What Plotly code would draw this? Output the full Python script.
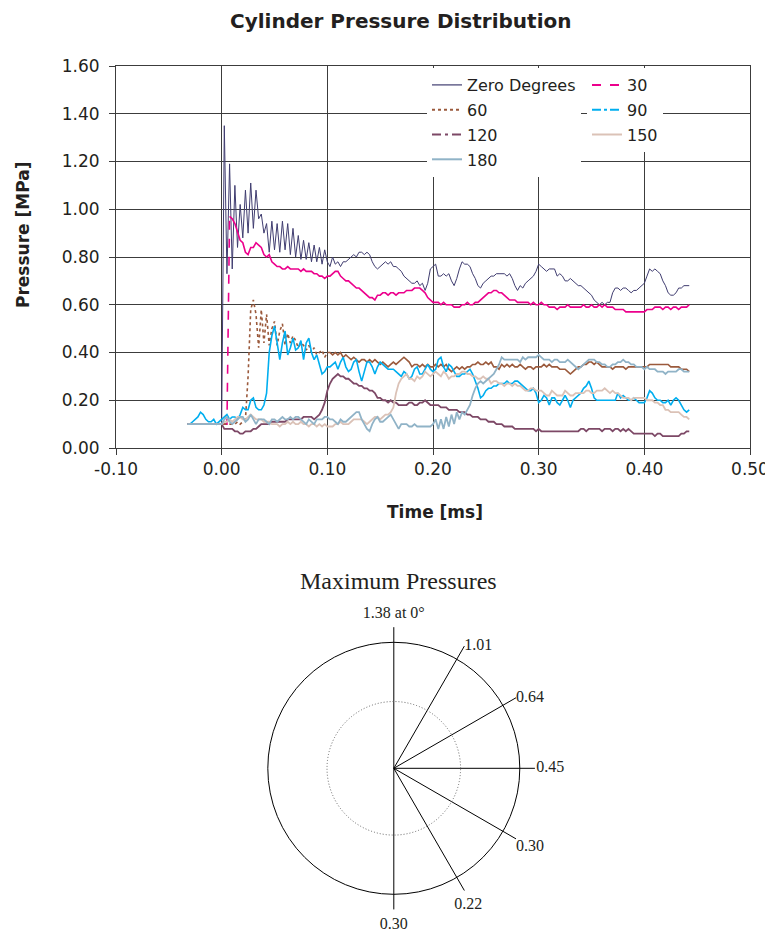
import plotly.graph_objects as go

# ---------------- data ----------------
TIME_START = -0.0325   # ms, first sample
TIME_STEP = 0.0025     # ms, sampling interval

zero_deg = [
    0.10, 0.10, 0.10, 0.10, 0.10, 0.10, 0.10, 0.10, 0.10, 0.10, 0.10, 0.10, 0.10, 0.10,
    1.35, 0.73, 1.19, 0.75, 1.10, 0.84, 1.02, 0.88, 1.08, 0.90,
    1.11, 0.92, 1.08, 0.96, 0.98, 0.90, 0.94, 0.82, 0.95, 0.83,
    0.94, 0.82, 0.95, 0.83, 0.94, 0.81, 0.92, 0.80, 0.89, 0.79,
    0.87, 0.79, 0.86, 0.78, 0.85, 0.78, 0.84, 0.77, 0.83, 0.78,
    0.76, 0.80, 0.77, 0.78, 0.76, 0.78, 0.78, 0.79, 0.80, 0.81,
    0.80, 0.82, 0.82, 0.81, 0.82, 0.81, 0.78, 0.76, 0.75, 0.76,
    0.77, 0.78, 0.77, 0.78, 0.76, 0.76, 0.75, 0.74, 0.72, 0.71,
    0.70, 0.69, 0.69, 0.70, 0.68, 0.69, 0.66, 0.69, 0.75, 0.76,
    0.77, 0.72, 0.72, 0.73, 0.72, 0.73, 0.70, 0.68, 0.71, 0.75,
    0.78, 0.77, 0.77, 0.76, 0.73, 0.71, 0.68, 0.67, 0.69, 0.70,
    0.71, 0.72, 0.72, 0.73, 0.73,
    0.73, 0.73, 0.72, 0.73, 0.71, 0.68, 0.66, 0.68, 0.67, 0.69,
    0.70, 0.71, 0.72, 0.74, 0.77, 0.76, 0.75, 0.74, 0.75, 0.75,
    0.75, 0.72, 0.73, 0.72, 0.70, 0.70, 0.71, 0.70, 0.69, 0.68,
    0.68, 0.67, 0.66, 0.65, 0.64, 0.62, 0.61, 0.60, 0.61, 0.60,
    0.61, 0.61, 0.65, 0.67, 0.67, 0.66, 0.67, 0.67, 0.66, 0.65,
    0.66, 0.66, 0.67, 0.68, 0.69, 0.72, 0.75, 0.74, 0.75, 0.74,
    0.73, 0.70, 0.68, 0.65, 0.64, 0.64, 0.65, 0.67, 0.67, 0.68,
    0.68, 0.68,
]

deg30 = [
    0.10, 0.10, 0.10, 0.10, 0.10, 0.10, 0.10, 0.10, 0.10, 0.10, 0.10, 0.10, 0.10, 0.10, 0.10, 0.10,
    0.97, 0.96, 0.94, 0.90, 0.87, 0.86, 0.82, 0.81, 0.84, 0.84,
    0.86, 0.85, 0.84, 0.81, 0.80, 0.81, 0.78, 0.77, 0.76, 0.76,
    0.75, 0.75, 0.76, 0.75, 0.75, 0.75, 0.75, 0.74, 0.75, 0.74,
    0.74, 0.74, 0.73, 0.73, 0.72, 0.72, 0.71, 0.72,
    0.72, 0.73, 0.74, 0.74, 0.72, 0.71, 0.70, 0.70, 0.69, 0.68,
    0.67, 0.67, 0.66, 0.65, 0.64, 0.63, 0.63, 0.62, 0.64, 0.64,
    0.65, 0.65, 0.64, 0.65, 0.65, 0.64, 0.65, 0.65, 0.65, 0.66,
    0.66, 0.66, 0.67, 0.67, 0.67, 0.66, 0.65, 0.63, 0.62, 0.61,
    0.61, 0.61, 0.60, 0.61, 0.60, 0.60, 0.60, 0.59, 0.59, 0.59,
    0.60, 0.60, 0.61, 0.60, 0.60, 0.61, 0.61, 0.62, 0.63, 0.64,
    0.65, 0.65, 0.66, 0.66, 0.65,
    0.65, 0.64, 0.63, 0.62, 0.62, 0.62, 0.61, 0.61, 0.61, 0.61,
    0.61, 0.60, 0.61, 0.60, 0.60, 0.61, 0.60, 0.60, 0.59, 0.59,
    0.59, 0.58, 0.59, 0.59, 0.59, 0.60, 0.59, 0.59, 0.59, 0.59,
    0.59, 0.60, 0.59, 0.59, 0.60, 0.59, 0.59, 0.60, 0.59, 0.60,
    0.59, 0.59, 0.59, 0.58, 0.58, 0.58, 0.58, 0.57, 0.57, 0.57,
    0.57, 0.57, 0.57, 0.57, 0.57, 0.58, 0.58, 0.58, 0.59, 0.59,
    0.59, 0.58, 0.59, 0.59, 0.58, 0.59, 0.59, 0.58, 0.59, 0.59,
    0.59, 0.60,
]

deg60 = [
    0.10, 0.10, 0.10, 0.10, 0.10, 0.10, 0.10, 0.10, 0.10, 0.10,
    0.10, 0.10, 0.10, 0.10, 0.10, 0.10, 0.10, 0.10, 0.10, 0.11,
    0.10, 0.11, 0.12,
    0.30, 0.58, 0.62, 0.56, 0.42, 0.58, 0.44, 0.56, 0.43, 0.50,
    0.53, 0.43, 0.49, 0.52, 0.43, 0.48, 0.44, 0.47, 0.45, 0.42,
    0.44, 0.43, 0.41, 0.43, 0.40, 0.42, 0.39, 0.40, 0.41, 0.38,
    0.40,
    0.40, 0.39, 0.40, 0.39, 0.40, 0.38, 0.39, 0.38, 0.37, 0.38,
    0.37, 0.36, 0.37, 0.37, 0.36, 0.37, 0.36, 0.37, 0.36, 0.35,
    0.36, 0.35, 0.34, 0.35, 0.36, 0.35, 0.36, 0.37, 0.38, 0.37,
    0.36, 0.34, 0.35, 0.35, 0.34, 0.35, 0.34, 0.35, 0.34, 0.34,
    0.35, 0.34, 0.35, 0.34, 0.35, 0.33, 0.32, 0.33, 0.34, 0.33,
    0.34, 0.33, 0.34, 0.34, 0.35, 0.35, 0.36, 0.35, 0.35, 0.36,
    0.35, 0.36, 0.34, 0.34, 0.33,
    0.35, 0.34, 0.35, 0.34, 0.35, 0.34, 0.34, 0.35, 0.34, 0.33,
    0.34, 0.34, 0.33, 0.34, 0.34, 0.34, 0.35, 0.34, 0.35, 0.34,
    0.34, 0.34, 0.33, 0.33, 0.33, 0.32, 0.31, 0.32, 0.33, 0.34,
    0.34, 0.35, 0.35, 0.36, 0.36, 0.35, 0.36, 0.35, 0.34, 0.34,
    0.34, 0.34, 0.33, 0.34, 0.34, 0.34, 0.34, 0.33, 0.34, 0.34,
    0.34, 0.34, 0.34, 0.34, 0.34, 0.34, 0.35, 0.35, 0.35, 0.35,
    0.35, 0.35, 0.35, 0.35, 0.34, 0.34, 0.34, 0.34, 0.33, 0.33,
    0.33, 0.32,
]

deg90 = [
    0.10, 0.10, 0.11, 0.12, 0.13, 0.15, 0.14, 0.12, 0.11, 0.11, 0.12, 0.10, 0.11,
    0.12, 0.13, 0.14, 0.12, 0.13, 0.13, 0.12, 0.14, 0.17, 0.16,
    0.16, 0.20, 0.21, 0.17, 0.16, 0.16, 0.18, 0.23, 0.40,
    0.47, 0.51, 0.44, 0.37, 0.44, 0.49, 0.39, 0.42, 0.46, 0.41,
    0.42, 0.45, 0.37, 0.44, 0.46, 0.40, 0.37, 0.39, 0.35, 0.31,
    0.32, 0.34,
    0.34, 0.35, 0.36, 0.33, 0.36, 0.38, 0.34, 0.32, 0.33, 0.36,
    0.37, 0.32, 0.28, 0.32, 0.36, 0.36, 0.34, 0.31, 0.34, 0.36,
    0.35, 0.34, 0.33, 0.33, 0.33, 0.32, 0.31, 0.30, 0.32, 0.31,
    0.29, 0.30, 0.33, 0.34, 0.31, 0.31, 0.33, 0.35, 0.33, 0.32,
    0.33, 0.37, 0.38, 0.34, 0.32, 0.35, 0.34, 0.32, 0.30, 0.30,
    0.31, 0.31, 0.32, 0.33, 0.31, 0.28, 0.25, 0.21, 0.22, 0.24,
    0.25, 0.25, 0.26, 0.26, 0.27,
    0.27, 0.27, 0.28, 0.27, 0.27, 0.28, 0.28, 0.27, 0.26, 0.25,
    0.24, 0.24, 0.25, 0.23, 0.19, 0.20, 0.22, 0.21, 0.18, 0.21,
    0.21, 0.19, 0.18, 0.20, 0.22, 0.20, 0.17, 0.20, 0.21, 0.22,
    0.23, 0.25, 0.26, 0.28, 0.25, 0.21, 0.20, 0.20, 0.20, 0.20,
    0.20, 0.20, 0.20, 0.20, 0.23, 0.21, 0.22, 0.21, 0.20, 0.20,
    0.21, 0.20, 0.19, 0.19, 0.19, 0.21, 0.24, 0.23, 0.21, 0.20,
    0.20, 0.19, 0.19, 0.20, 0.18, 0.20, 0.21, 0.20, 0.18, 0.16,
    0.15, 0.16,
]

deg120 = [
    0.10, 0.10, 0.10, 0.10, 0.10, 0.10, 0.10, 0.10, 0.10, 0.10, 0.10, 0.10, 0.10, 0.10,
    0.08, 0.08, 0.08, 0.08, 0.07, 0.07, 0.06, 0.06, 0.07, 0.07,
    0.07, 0.08, 0.08, 0.09, 0.10, 0.10, 0.10, 0.10, 0.11, 0.11,
    0.11, 0.11, 0.11, 0.11, 0.12, 0.12, 0.12, 0.12, 0.12, 0.12,
    0.13, 0.13, 0.13, 0.13, 0.12, 0.13, 0.14, 0.16, 0.19, 0.24,
    0.27, 0.29, 0.30, 0.31, 0.30, 0.30, 0.29, 0.29, 0.28, 0.27,
    0.27, 0.26, 0.26, 0.25, 0.25, 0.24, 0.24, 0.23, 0.21, 0.21,
    0.20, 0.20, 0.19, 0.20, 0.19, 0.19, 0.18, 0.18, 0.18, 0.18,
    0.19, 0.19, 0.18, 0.18, 0.19, 0.19, 0.20, 0.19, 0.18, 0.18,
    0.18, 0.18, 0.17, 0.17, 0.17, 0.16, 0.16, 0.16, 0.16, 0.15,
    0.15, 0.15, 0.14, 0.14, 0.13, 0.13, 0.13, 0.12, 0.12, 0.12,
    0.11, 0.11, 0.11, 0.10, 0.10,
    0.10, 0.09, 0.09, 0.09, 0.09, 0.08, 0.08, 0.08, 0.08, 0.08,
    0.08, 0.08, 0.08, 0.07, 0.08, 0.07, 0.07, 0.07, 0.07, 0.07,
    0.07, 0.07, 0.07, 0.07, 0.07, 0.07, 0.07, 0.07, 0.07, 0.07,
    0.08, 0.08, 0.07, 0.08, 0.08, 0.08, 0.08, 0.08, 0.07, 0.08,
    0.08, 0.08, 0.07, 0.08, 0.08, 0.07, 0.08, 0.07, 0.08, 0.07,
    0.06, 0.06, 0.06, 0.06, 0.06, 0.06, 0.06, 0.06, 0.05, 0.06,
    0.06, 0.05, 0.05, 0.05, 0.05, 0.05, 0.05, 0.05, 0.06, 0.06,
    0.07, 0.07,
]

deg150 = [
    0.10, 0.10, 0.10, 0.10, 0.10, 0.10, 0.10, 0.10, 0.10, 0.10, 0.10, 0.10, 0.10, 0.10,
    0.11, 0.11, 0.12, 0.11, 0.12, 0.13, 0.13, 0.12, 0.12, 0.13,
    0.14, 0.13, 0.12, 0.12, 0.12, 0.11, 0.11, 0.11, 0.10, 0.10,
    0.10, 0.09, 0.10, 0.10, 0.11, 0.10, 0.11, 0.10, 0.10, 0.11,
    0.10, 0.10, 0.09, 0.10, 0.10, 0.09, 0.10, 0.09, 0.10, 0.09,
    0.09, 0.09, 0.10, 0.10, 0.11, 0.10, 0.10, 0.10, 0.11, 0.12,
    0.12, 0.12, 0.12, 0.11, 0.10, 0.11, 0.12, 0.13, 0.13, 0.12,
    0.13, 0.14, 0.14, 0.15, 0.17, 0.23, 0.27, 0.29, 0.30, 0.31,
    0.29, 0.29, 0.28, 0.30, 0.29, 0.30, 0.32, 0.31, 0.30, 0.31,
    0.32, 0.31, 0.30, 0.32, 0.31, 0.29, 0.30, 0.30, 0.31, 0.31,
    0.32, 0.32, 0.31, 0.31, 0.30, 0.30, 0.29, 0.29, 0.30, 0.29,
    0.29, 0.27, 0.28, 0.28, 0.27,
    0.27, 0.26, 0.27, 0.27, 0.26, 0.27, 0.26, 0.26, 0.25, 0.24,
    0.24, 0.25, 0.25, 0.24, 0.24, 0.24, 0.23, 0.22, 0.22, 0.24,
    0.23, 0.22, 0.22, 0.22, 0.24, 0.23, 0.22, 0.22, 0.23, 0.23,
    0.23, 0.23, 0.24, 0.24, 0.23, 0.23, 0.24, 0.24, 0.24, 0.25,
    0.24, 0.23, 0.24, 0.23, 0.23, 0.22, 0.21, 0.21, 0.21, 0.20,
    0.21, 0.21, 0.21, 0.21, 0.21, 0.20, 0.20, 0.20, 0.19, 0.19,
    0.18, 0.18, 0.16, 0.16, 0.15, 0.15, 0.15, 0.15, 0.14, 0.13,
    0.13, 0.12,
]

deg180 = [
    0.10, 0.10, 0.10, 0.10, 0.10, 0.10, 0.10, 0.10, 0.10, 0.10, 0.10, 0.10, 0.10, 0.10,
    0.12, 0.13, 0.11, 0.10, 0.11, 0.12, 0.13, 0.13, 0.11, 0.12,
    0.14, 0.12, 0.10, 0.12, 0.12, 0.12, 0.11, 0.10, 0.12, 0.12,
    0.11, 0.12, 0.13, 0.12, 0.12, 0.13, 0.12, 0.13, 0.13, 0.12,
    0.11, 0.10, 0.12, 0.11, 0.10, 0.12, 0.12, 0.12, 0.13, 0.13,
    0.12, 0.12, 0.11, 0.10, 0.12, 0.11, 0.11, 0.12, 0.13, 0.14,
    0.15, 0.15, 0.12, 0.10, 0.08, 0.07, 0.10, 0.12, 0.13, 0.11,
    0.11, 0.12, 0.13, 0.14, 0.12, 0.10, 0.08, 0.10, 0.10, 0.10,
    0.09, 0.09, 0.10, 0.09, 0.09, 0.09, 0.09, 0.09, 0.09, 0.10,
    0.12, 0.08, 0.12, 0.08, 0.13, 0.09, 0.14, 0.10, 0.15, 0.12,
    0.15, 0.14, 0.16, 0.18, 0.22, 0.25, 0.27, 0.28, 0.27, 0.28,
    0.29, 0.30, 0.31, 0.33, 0.35,
    0.38, 0.37, 0.37, 0.37, 0.37, 0.37, 0.37, 0.36, 0.38, 0.37,
    0.38, 0.38, 0.38, 0.38, 0.39, 0.38, 0.37, 0.37, 0.37, 0.36,
    0.37, 0.37, 0.36, 0.36, 0.36, 0.37, 0.36, 0.35, 0.34, 0.33,
    0.34, 0.35, 0.36, 0.37, 0.37, 0.37, 0.36, 0.36, 0.35, 0.35,
    0.34, 0.34, 0.35, 0.35, 0.36, 0.36, 0.37, 0.36, 0.36, 0.35,
    0.35, 0.34, 0.34, 0.34, 0.33, 0.34, 0.33, 0.33, 0.33, 0.32,
    0.32, 0.32, 0.31, 0.32, 0.32, 0.32, 0.32, 0.33, 0.33, 0.32,
    0.32, 0.32,
]

x_tick_vals = [-0.10, 0.00, 0.10, 0.20, 0.30, 0.40, 0.50]
x_tick_text = ["-0.10", "0.00", "0.10", "0.20", "0.30", "0.40", "0.50"]
y_tick_vals = [0.0, 0.2, 0.4, 0.6, 0.8, 1.0, 1.2, 1.4, 1.6]
y_tick_text = ["0.00", "0.20", "0.40", "0.60", "0.80", "1.00", "1.20", "1.40", "1.60"]

angles_deg = [0, 30, 60, 90, 120, 150, 180]
max_pressures = [1.38, 1.01, 0.64, 0.45, 0.30, 0.22, 0.30]

# ---------------- figure ----------------
N = len(zero_deg)
for s in (deg30, deg60, deg90, deg120, deg150, deg180):
    assert len(s) == N, len(s)
time_ms = [round(TIME_START + TIME_STEP * i, 4) for i in range(N)]

# the page body has an 8px margin; lay out in window pixels and shift
OFF = 8
W, H = 773 - OFF, 933 - OFF
TXT = "#231F20"
GRID = "#3c3c3c"
SANS = "DejaVu Sans"
SERIF = "Liberation Serif"

C_ZERO = "#403D70"
C_30 = "#EC008C"
C_60 = "#9B5A3C"
C_90 = "#00AEEF"
C_120 = "#7D4866"
C_150 = "#DBC2B7"
C_180 = "#90B3C7"
LW = 1.6

fig = go.Figure()

def add_line(x, y, color, width, dash="solid"):
    fig.add_trace(go.Scatter(x=x, y=y, mode="lines", showlegend=False, hoverinfo="skip",
                             line=dict(color=color, width=width, dash=dash)))

add_line(time_ms, zero_deg, C_ZERO, 1.0)
# the steep rise of "30" renders dashed, the dense noisy part looks solid
add_line(time_ms[:17], deg30[:17], C_30, LW, "dash")
add_line(time_ms[16:], deg30[16:], C_30, LW)
add_line(time_ms[:54], deg60[:54], C_60, LW, "dot")
add_line(time_ms[53:], deg60[53:], C_60, LW)
add_line(time_ms, deg90, C_90, LW)
add_line(time_ms, deg120, C_120, 1.8)
add_line(time_ms, deg150, C_150, 1.8)
add_line(time_ms, deg180, C_180, 1.8)

# legend entries (two columns)
legend_items = [
    ("Zero Degrees", C_ZERO, 1.2, "solid", "legend"),
    ("30", C_30, 2.0, "dash", "legend2"),
    ("60", C_60, 2.0, "dot", "legend"),
    ("90", C_90, 2.0, "dashdot", "legend2"),
    ("120", C_120, 2.0, "9px,4px,3px,4px", "legend"),
    ("150", C_150, 2.0, "solid", "legend2"),
    ("180", C_180, 2.0, "solid", "legend"),
]
for name, color, width, dash, lg in legend_items:
    fig.add_trace(go.Scatter(x=[None], y=[None], mode="lines", name=name, legend=lg,
                             legendgroup=name,
                             line=dict(color=color, width=width, dash=dash)))

# ---------------- polar diagram ----------------
RAY_LEN = 1.12
ray_r, ray_t = [], []
for a in angles_deg:
    ray_r += [0, RAY_LEN, None]
    ray_t += [a, a, None]
fig.add_trace(go.Scatterpolar(r=ray_r, theta=ray_t, mode="lines", subplot="polar",
                              line=dict(color="black", width=1), showlegend=False,
                              hoverinfo="skip", cliponaxis=False))

label_text = [f"{p:.2f}" for p in max_pressures]
label_text[0] = f"{max_pressures[0]:.2f} at {angles_deg[0]}°"
label_pos = {0: "top center", 30: "middle right", 60: "middle right", 90: "middle right",
             120: "bottom right", 150: "bottom center", 180: "bottom center"}
label_rad = {0: 1.16, 30: 1.12, 60: 1.12, 90: 1.13, 120: 1.12, 150: 1.18, 180: 1.18}
fig.add_trace(go.Scatterpolar(r=[label_rad[a] for a in angles_deg], theta=angles_deg,
                              mode="text", text=label_text,
                              textposition=[label_pos[a] for a in angles_deg],
                              textfont=dict(family=SERIF, size=16, color=TXT),
                              subplot="polar", showlegend=False, hoverinfo="skip",
                              cliponaxis=False))
# empty trace so the second (dotted-circle) polar subplot is drawn
fig.add_trace(go.Scatterpolar(r=[None], theta=[None], subplot="polar2", mode="lines",
                              showlegend=False, hoverinfo="skip"))

# ---------------- layout ----------------
def px_x(v):
    return (v - OFF) / W

def px_y(v):
    return 1 - (v - OFF) / H

axis_common = dict(
    ticks="outside", ticklen=6, tickcolor=GRID, tickwidth=1,
    showgrid=True, gridcolor=GRID, gridwidth=1,
    showline=True, mirror=True, linecolor=GRID, linewidth=1,
    zeroline=False, automargin=False,
    tickfont=dict(family=SANS, size=17, color=TXT),
)

PR = 1.3  # polar radial range (outer circle drawn at 1.0)
cx, cy, rad = 393.8, 768.3, 126.0
pdom_x = [px_x(cx - rad * PR), px_x(cx + rad * PR)]
pdom_y = [max(0.0, px_y(cy + rad * PR)), px_y(cy - rad * PR)]

polar_common = dict(
    domain=dict(x=pdom_x, y=pdom_y),
    bgcolor="rgba(0,0,0,0)",
    angularaxis=dict(visible=False, rotation=90, direction="clockwise"),
)

legend_common = dict(
    xanchor="left", yanchor="top", bgcolor="white", borderwidth=0,
    font=dict(family=SANS, size=16, color=TXT), tracegroupgap=1, itemwidth=30,
)

fig.update_layout(
    template="none",
    width=W, height=H, margin=dict(l=0, r=0, t=0, b=0, autoexpand=False),
    paper_bgcolor="white", plot_bgcolor="white",
    font=dict(family=SANS, color=TXT),
    xaxis=dict(domain=[px_x(116), px_x(750)], range=[-0.1, 0.5],
               tickvals=x_tick_vals, ticktext=x_tick_text, **axis_common),
    yaxis=dict(domain=[px_y(448), px_y(66)], range=[0, 1.6],
               tickvals=y_tick_vals, ticktext=y_tick_text, ticklabelstandoff=6,
               **axis_common),
    legend=dict(x=px_x(427), y=px_y(68), **legend_common),
    legend2=dict(x=px_x(587), y=px_y(68), **legend_common),
    polar=dict(
        radialaxis=dict(range=[0, PR], showline=False, showticklabels=False, ticks="",
                        tickvals=[1.0], showgrid=True, gridcolor="black", gridwidth=1),
        **polar_common),
    polar2=dict(
        radialaxis=dict(range=[0, PR], showline=False, showticklabels=False, ticks="",
                        tickvals=[0.53], showgrid=True, gridcolor="#666666", gridwidth=1,
                        griddash="1px,2px"),
        **polar_common),
    annotations=[
        dict(text="<b>Cylinder Pressure Distribution</b>", x=px_x(401), y=px_y(21),
             xref="paper", yref="paper", showarrow=False, xanchor="center", yanchor="middle",
             font=dict(family=SANS, size=20, color=TXT)),
        dict(text="<b>Time [ms]</b>", x=px_x(434.5), y=px_y(512),
             xref="paper", yref="paper", showarrow=False, xanchor="center", yanchor="middle",
             font=dict(family=SANS, size=17, color=TXT)),
        dict(text="<b>Pressure [MPa]</b>", x=px_x(23), y=px_y(235), textangle=-90,
             xref="paper", yref="paper", showarrow=False, xanchor="center", yanchor="middle",
             font=dict(family=SANS, size=17, color=TXT)),
        dict(text="Maximum Pressures", x=px_x(398.3), y=px_y(581),
             xref="paper", yref="paper", showarrow=False, xanchor="center", yanchor="middle",
             font=dict(family=SERIF, size=24, color=TXT)),
    ],
)

fig.write_html("out.html")
